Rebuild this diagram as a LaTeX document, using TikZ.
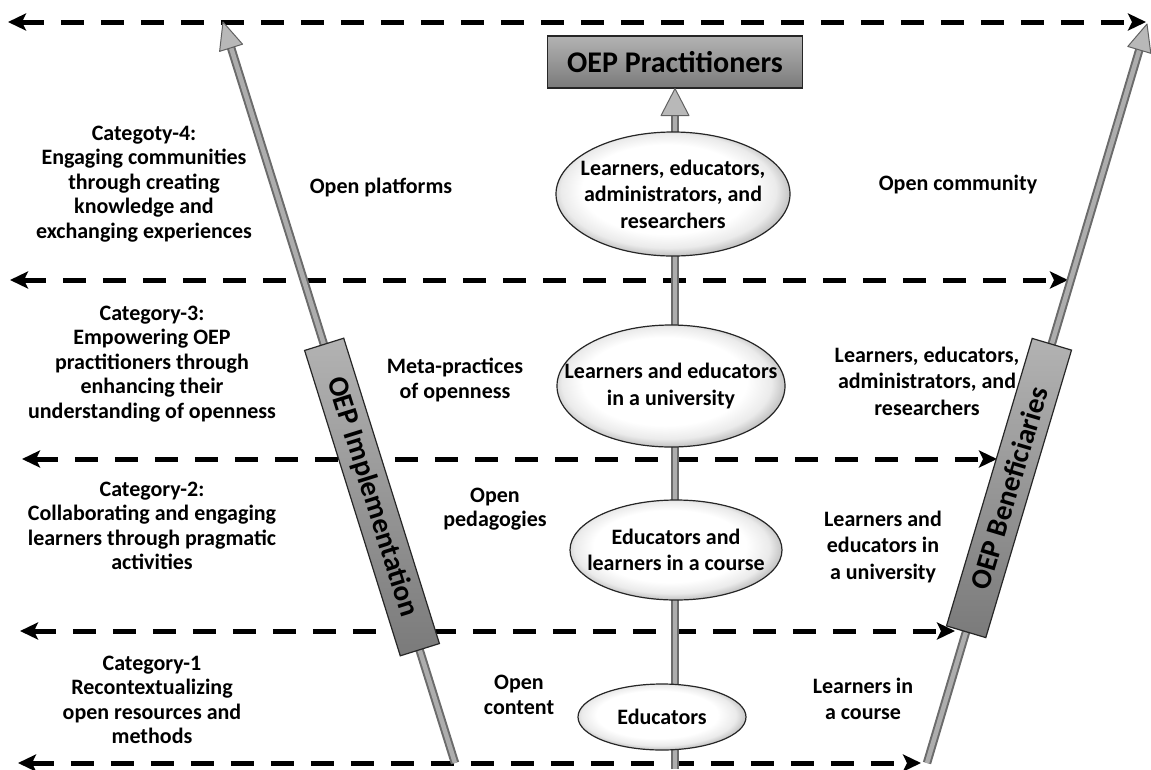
\documentclass[tikz,border=0pt]{standalone}
\usepackage{fontspec}
\setmainfont{Carlito}
\usetikzlibrary{arrows.meta,calc,shapes.geometric}

% white oval fill that greys towards the lower right rim
% (the path's bounding box covers the central 50bp square of the shading)
\pgfdeclareradialshading{ellshade}{\pgfpoint{-3bp}{4bp}}{%
  color(0bp)=(white); color(18bp)=(white); color(23bp)=(black!8);
  color(27bp)=(black!30); color(34bp)=(black!42)}

\begin{document}
\begin{tikzpicture}[x=1pt,y=-1pt,
  every node/.style={font=\bfseries\fontsize{22}{24.5}\selectfont, align=center, inner sep=0pt},
  widelines/.style={font=\bfseries\fontsize{22}{26.5}\selectfont},
  dasharrow/.style={line width=5pt, dash pattern=on 23pt off 17pt,
    {Stealth[length=18pt,width=17pt,inset=4pt]}-{Stealth[length=18pt,width=17pt,inset=4pt]}},
  shaftout/.style={line width=8.5pt, black!58},
  shaftin/.style={line width=4.5pt, black!32},
  headfill/.style={fill=black!28, draw=black!62, line width=1pt, line join=round},
  graybox/.style={rectangle, draw=black!85, line width=1.2pt,
    top color=black!30, bottom color=black!52},
  sidebox/.style={graybox, minimum height=41pt, font=\bfseries\fontsize{29}{32}\selectfont},
  bubble/.style={ellipse, draw=black!85, line width=1.2pt, shading=ellshade},
  inner/.style={inner sep=0pt, widelines},
]
\fill[white] (0,0) rectangle (1151,769);
\useasboundingbox (0,0) rectangle (1151,769);

% ---- horizontal dashed separators ----
\coordinate (d1l) at (8,22);    \coordinate (d1r) at (1146,22);
\coordinate (d2l) at (10,280);  \coordinate (d2r) at (1068,280);
\coordinate (d3l) at (22,459);  \coordinate (d3r) at (997,459);
\coordinate (d4l) at (20,631);  \coordinate (d4r) at (955,631);
\coordinate (d5l) at (18,763);  \coordinate (d5r) at (921,763);
\foreach \i in {1,...,5} \draw[dasharrow] (d\i l) -- (d\i r);

% ---- left slanted arrow ----
\coordinate (Lbot) at (455,763); \coordinate (Ltip) at (223,22);
\coordinate (Lbase) at ($(Ltip)!27pt!(Lbot)$);
\draw[shaftout] (Lbot) -- (Lbase);
\draw[shaftin] (Lbot) -- (Lbase);
\draw[headfill] (Ltip) -- ($(Lbase)!12pt!90:(Ltip)$) -- ($(Lbase)!12pt!-90:(Ltip)$) -- cycle;

% ---- right slanted arrow ----
\coordinate (Rbot) at (927,763); \coordinate (Rtip) at (1147,24);
\coordinate (Rbase) at ($(Rtip)!27pt!(Rbot)$);
\draw[shaftout] (Rbot) -- (Rbase);
\draw[shaftin] (Rbot) -- (Rbase);
\draw[headfill] (Rtip) -- ($(Rbase)!12pt!90:(Rtip)$) -- ($(Rbase)!12pt!-90:(Rtip)$) -- cycle;

% ---- top box and central arrow ----
\node[graybox, minimum width=255pt, minimum height=52pt,
  font=\bfseries\fontsize{30}{34}\selectfont] (prac) at (675,62) {OEP Practitioners};
\coordinate (Cbot) at (675,769);
\coordinate (Cbase) at ($(prac.south)!27pt!(Cbot)$);
\draw[shaftout] (Cbot) -- (Cbase);
\draw[shaftin] (Cbot) -- (Cbase);
\draw[headfill] (prac.south) -- ($(Cbase)!14pt!90:(prac.south)$) -- ($(Cbase)!14pt!-90:(prac.south)$) -- cycle;

% ---- slanted side boxes ----
\node[sidebox, minimum width=320pt, rotate=-72.6] (impl) at (372,497) {OEP Implementation};
\node[sidebox, minimum width=300pt, rotate=73.4] (bene) at (1009,488) {OEP Beneficiaries};

% ---- practitioner ovals ----
\node[bubble, minimum width=234pt, minimum height=124pt,
  label={[inner]center:{Learners, educators,\\administrators, and\\researchers}}] (e1) at (673,194) {};
\node[bubble, minimum width=228pt, minimum height=122pt,
  label={[inner]center:{Learners and educators\\in a university}}] (e2) at (671,386) {};
\node[bubble, minimum width=212pt, minimum height=100pt,
  label={[inner]center:{Educators and\\learners in a course}}] (e3) at (676,550) {};
\node[bubble, minimum width=168pt, minimum height=66pt,
  label={[inner]center:{Educators}}] (e4) at (662,717) {};

% ---- category descriptions ----
\node (c4) at (144,184) {Categoty-4:\\Engaging communities\\through creating\\knowledge and\\exchanging experiences};
\node (c3) at (152,364) {Category-3:\\Empowering OEP\\practitioners through\\enhancing their\\understanding of openness};
\node (c2) at (152,526) {Category-2:\\Collaborating and engaging\\learners through pragmatic\\activities};
\node (c1) at (152,700) {Category-1\\Recontextualizing\\open resources and\\methods};

% ---- implementation labels ----
\node (i4) at (381,188) {Open platforms};
\node (i3) at (455,380) {Meta-practices\\of openness};
\node (i2) at (495,509) {Open\\pedagogies};
\node (i1) at (519,695) {Open\\content};

% ---- beneficiary labels ----
\node (b4) at (958,185) {Open community};
\node[widelines] (b3) at (927,381) {Learners, educators,\\administrators, and\\researchers};
\node[widelines] (b2) at (883,547) {Learners and\\educators in\\a university};
\node[widelines] (b1) at (863,699) {Learners in\\a course};
\end{tikzpicture}
\end{document}
